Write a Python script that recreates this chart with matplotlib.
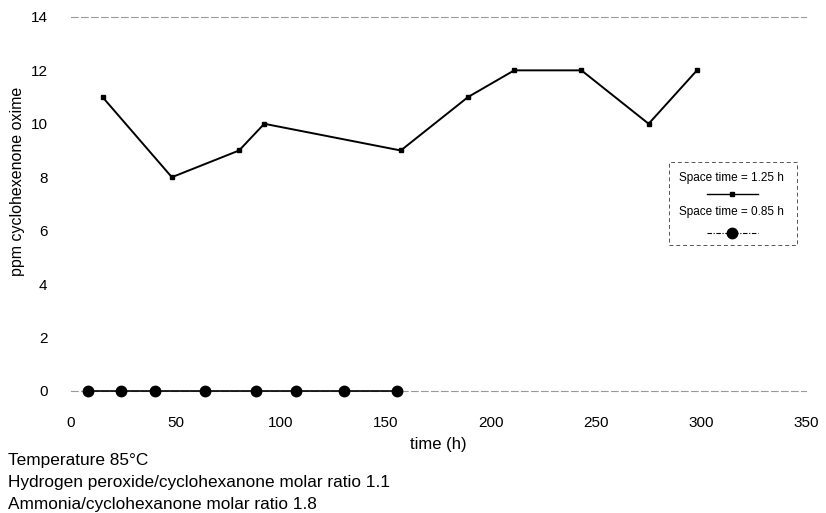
import matplotlib.pyplot as plt
from matplotlib.lines import Line2D
from matplotlib.patches import Rectangle

plt.rcParams['font.family'] = ['Liberation Sans', 'DejaVu Sans']

# datos
t_125 = [15, 48, 80, 92, 157, 189, 211, 243, 275, 298]
ppm_125 = [11, 8, 9, 10, 9, 11, 12, 12, 10, 12]

t_085 = [8, 24, 40, 64, 88, 107, 130, 155]
ppm_085 = [0, 0, 0, 0, 0, 0, 0, 0]

xticks = [0, 50, 100, 150, 200, 250, 300, 350]
yticks = [0, 2, 4, 6, 8, 10, 12, 14]

etiquetas = ['Space time = 1.25 h', 'Space time = 0.85 h']
notas = ['Temperature 85°C',
         'Hydrogen peroxide/cyclohexanone molar ratio 1.1',
         'Ammonia/cyclohexanone molar ratio 1.8']

fig = plt.figure(figsize=(8.26, 5.13), dpi=100)
ax = fig.add_axes([0.086, 0.238, 0.89, 0.729])

ax.plot(t_125, ppm_125, color='black', lw=1.4, marker='s', ms=3.5,
        clip_on=False, zorder=3)
ax.plot(t_085, ppm_085, color='black', lw=1.2, marker='o', ms=7.5,
        clip_on=False, zorder=3)

ax.set_xlim(0, 350)
ax.set_ylim(0, 14)
ax.set_xticks(xticks)
ax.set_yticks(yticks)
ax.tick_params(length=0, labelsize=11)
ax.tick_params(axis='x', pad=18)
ax.tick_params(axis='y', pad=17)

for lado in ['left', 'right']:
    ax.spines[lado].set_visible(False)
for lado in ['top', 'bottom']:
    ax.spines[lado].set_color('#999999')
    ax.spines[lado].set_linestyle((0, (6, 3)))
    ax.spines[lado].set_linewidth(0.8)

ax.set_xlabel('time (h)', fontsize=12, labelpad=5)
ax.set_ylabel('ppm cyclohexenone oxime', fontsize=11.5)
ax.yaxis.set_label_coords(-0.062, 0.56)

# leyenda dibujada a mano (texto arriba, muestra abajo)
caja = Rectangle((0.813, 0.39), 0.175, 0.222, transform=ax.transAxes,
                 fill=False, edgecolor='#555555', lw=0.7,
                 linestyle=(0, (4, 3)), clip_on=False)
ax.add_patch(caja)
ax.text(0.899, 0.57, etiquetas[0], transform=ax.transAxes,
        ha='center', va='center', fontsize=8.5)
ax.add_line(Line2D([0.865, 0.935], [0.527, 0.527], transform=ax.transAxes,
                   color='black', lw=1, clip_on=False))
ax.plot([0.899], [0.527], transform=ax.transAxes, marker='s', ms=3,
        color='black', clip_on=False)
ax.text(0.899, 0.479, etiquetas[1], transform=ax.transAxes,
        ha='center', va='center', fontsize=8.5)
ax.add_line(Line2D([0.865, 0.935], [0.422, 0.422], transform=ax.transAxes,
                   color='black', lw=0.8, linestyle=(0, (4, 1.5, 1, 1.5)),
                   clip_on=False))
ax.plot([0.899], [0.422], transform=ax.transAxes, marker='o', ms=7.5,
        color='black', clip_on=False)

# notas de condiciones
for i, nota in enumerate(notas):
    fig.text(0.01, 0.103 - i * 0.043, nota, fontsize=12.4, va='center')

fig.savefig('out.png', dpi=100)
